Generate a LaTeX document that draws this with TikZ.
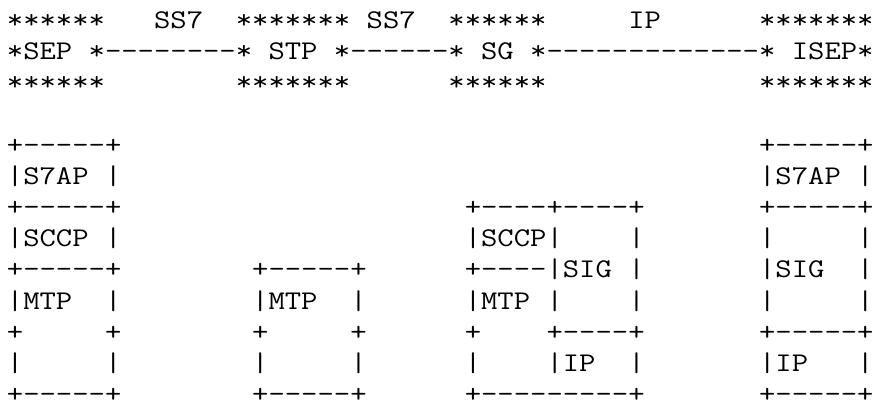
\documentclass[tikz,border=0pt]{standalone}
\usepackage{fontspec}
\setmonofont{Latin Modern Mono}[FakeStretch=1.176]
\tikzstyle{ascii art}=[
    row/.style={anchor=base west,inner sep=0pt,
        font={\ttfamily\fontsize{27pt}{31.2pt}\selectfont\frenchspacing}},
]
% an active space gives one fixed space each
{\catcode`\ =\active\gdef {\ }}
\begingroup
\obeyspaces%
\gdef\lineA{******   SS7  ******* SS7  ******     IP      *******}%
\gdef\lineB{*SEP *--------* STP *------* SG *-------------* ISEP*}%
\gdef\lineC{******        *******      ******             *******}%
\gdef\lineE{+-----+                                       +-----+}%
\gdef\lineF{|S7AP |                                       |S7AP |}%
\gdef\lineG{+-----+                     +----+----+       +-----+}%
\gdef\lineH{|SCCP |                     |SCCP|    |       |     |}%
\gdef\lineI{+-----+        +-----+      +----|SIG |       |SIG  |}%
\gdef\lineJ{|MTP  |        |MTP  |      |MTP |    |       |     |}%
\gdef\lineK{+     +        +     +      +    +----+       +-----+}%
\gdef\lineL{|     |        |     |      |    |IP  |       |IP   |}%
\gdef\lineM{+-----+        +-----+      +---------+       +-----+}%
\endgroup

\begin{document}
\begin{tikzpicture}[ascii art]

    \useasboundingbox (0,0) rectangle (890pt,-410pt);

    \foreach \n/\k in {A/1,B/2,C/3,E/5,F/6,G/7,H/8,I/9,J/10,K/11,L/12,M/13}
        \node[row] (line\n) at (6.7pt,{-28.3pt-(\k-1)*31.2pt}) {\csname line\n\endcsname};

\end{tikzpicture}
\end{document}
